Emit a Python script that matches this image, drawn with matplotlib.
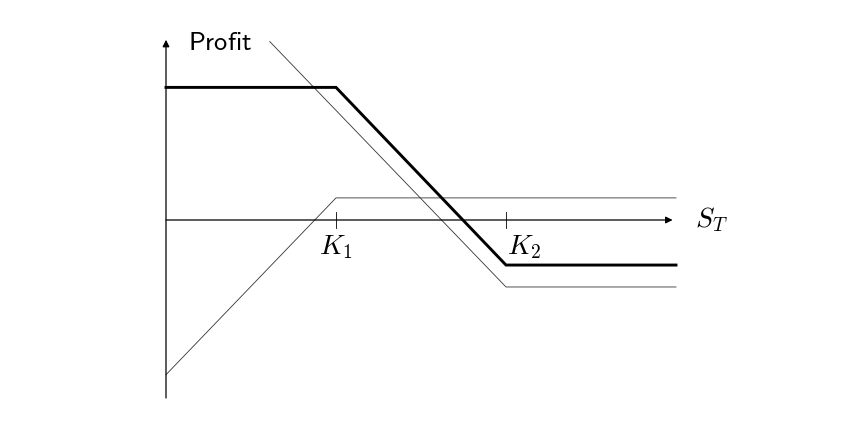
import numpy as np
import matplotlib
matplotlib.use("Agg")
import matplotlib.pyplot as plt

plt.rcParams['mathtext.fontset'] = 'cm'

# strikes K1, K2 on the S_T axis (units of K1)
strikes = [1.0, 2.0]
strike_labels = [r'$K_1$', r'$K_2$']
label_align = ['center', 'left']

# combined position (thick)
combo_x = [0.0, 1.0, 2.0, 3.0]
combo_y = [0.78, 0.78, -0.265, -0.265]

# short put at K1 (thin)
put1_x = [0.0, 1.0, 3.0]
put1_y = [-0.91, 0.13, 0.13]

# long put at K2 (thin)
put2_x = [0.61, 2.0, 3.0]
put2_y = [1.05, -0.394, -0.394]

# pixel -> data mapping: x_px = 166 + 170*x, y_px = 220 - 170*y
W, H = 844, 442
x0, y0, sc = 166, 220, 170.0

fig = plt.figure(figsize=(W / 100, H / 100), dpi=100)
ax = fig.add_axes([0, 0, 1, 1])
ax.set_xlim(-x0 / sc, (W - x0) / sc)
ax.set_ylim((y0 - H) / sc, y0 / sc)
ax.axis('off')

# axes with arrows
ax.annotate('', xy=(2.98, 0), xytext=(0, 0),
            arrowprops=dict(arrowstyle='-|>', lw=0.9, color='k',
                            mutation_scale=10, shrinkA=0, shrinkB=0))
ax.annotate('', xy=(0, 1.06), xytext=(0, -1.047),
            arrowprops=dict(arrowstyle='-|>', lw=0.9, color='k',
                            mutation_scale=10, shrinkA=0, shrinkB=0))

# strike ticks
for k, lab, ha in zip(strikes, strike_labels, label_align):
    ax.plot([k, k], [-0.045, 0.045], color='k', lw=0.6)
    xt = k if ha == 'center' else k + 0.005
    ax.text(xt, -0.075, lab, ha=ha, va='top', fontsize=20)

ax.plot(put1_x, put1_y, color='#333333', lw=0.6)
ax.plot(put2_x, put2_y, color='#333333', lw=0.6)
ax.plot(combo_x, combo_y, color='k', lw=2.1, solid_joinstyle='miter')

ax.text(0.13, 1.0, r'$\mathsf{Profit}$', ha='left', va='baseline', fontsize=19)
ax.text(3.11, 0.0, r'$S_T$', ha='left', va='center', fontsize=20)

fig.savefig('out.png', dpi=100)
